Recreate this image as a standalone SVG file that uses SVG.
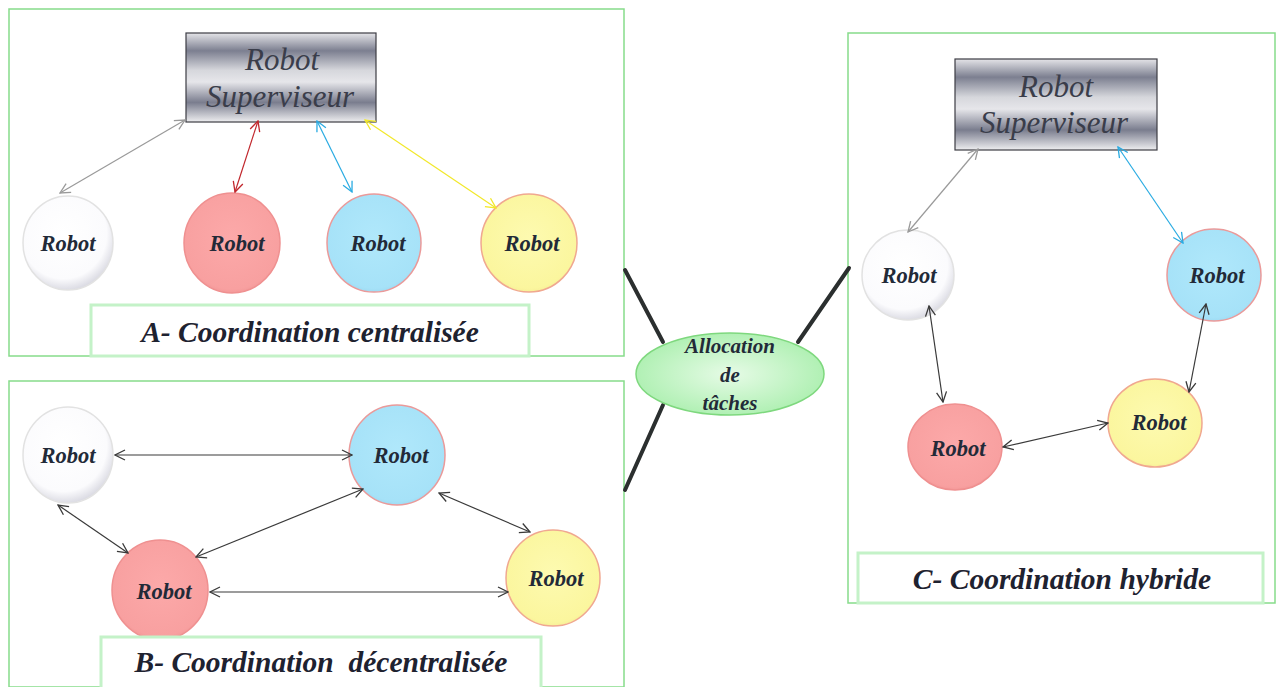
<svg xmlns="http://www.w3.org/2000/svg" width="1278" height="687" viewBox="0 0 1278 687">
<style>
.panel{fill:#fff;stroke:#86dc8a;stroke-width:1.5}
.lbl{fill:#fff;stroke:#c4f2c8;stroke-width:3}
.lt{font-family:"Liberation Serif",serif;font-weight:bold;font-style:italic;font-size:29.5px;fill:#1e2230;text-anchor:middle}
.sup{fill:url(#metal);stroke:#3c3c44;stroke-width:1.2}
.st{font-family:"Liberation Serif",serif;font-style:italic;font-size:31px;fill:#3a3d4a;text-anchor:middle}
.rt{font-family:"Liberation Serif",serif;font-weight:bold;font-style:italic;font-size:22.5px;fill:#222a38;text-anchor:middle}
.ht{font-family:"Liberation Serif",serif;font-weight:bold;font-style:italic;font-size:21px;fill:#222a38;text-anchor:middle}
.w{fill:url(#gw);stroke:#e2e2e2;stroke-width:1.5}
.r{fill:url(#gr);stroke:#ef9090;stroke-width:1.5}
.b{fill:url(#gb);stroke:#ea9a9a;stroke-width:1.5}
.y{fill:url(#gy);stroke:#f0a890;stroke-width:1.5}
.a{fill:none;stroke-width:1.2}
.dk{stroke:#3a3a3a;marker-start:url(#mk);marker-end:url(#mk)}
.gy{stroke:#9a9a9a;marker-start:url(#mg);marker-end:url(#mg)}
.rd{stroke:#c1272d;marker-start:url(#mr);marker-end:url(#mr)}
.bl{stroke:#29abe2;marker-start:url(#mb);marker-end:url(#mb)}
.yl{stroke:#f2e82a;marker-start:url(#my);marker-end:url(#my)}
.hub{stroke:#2b2f2f;stroke-width:4;stroke-linecap:round}
</style>
<defs>
<linearGradient id="metal" x1="0" y1="0" x2="0" y2="1">
<stop offset="0" stop-color="#e4e4e8"/>
<stop offset="0.2" stop-color="#7c7f90"/>
<stop offset="0.42" stop-color="#d6d7dc"/>
<stop offset="0.55" stop-color="#e6e6ea"/>
<stop offset="0.78" stop-color="#7a7d8e"/>
<stop offset="1" stop-color="#eeeef0"/>
</linearGradient>
<radialGradient id="gw" cx="0.45" cy="0.4" r="0.6">
<stop offset="0" stop-color="#ffffff"/><stop offset="0.8" stop-color="#fbfbfd"/><stop offset="1" stop-color="#dcdce4"/>
</radialGradient>
<radialGradient id="gr" cx="0.5" cy="0.45" r="0.6">
<stop offset="0" stop-color="#fca9a9"/><stop offset="0.85" stop-color="#f8a0a0"/><stop offset="1" stop-color="#ee9090"/>
</radialGradient>
<radialGradient id="gb" cx="0.5" cy="0.45" r="0.6">
<stop offset="0" stop-color="#b0e8fb"/><stop offset="0.85" stop-color="#a6e2f8"/><stop offset="1" stop-color="#96d4ee"/>
</radialGradient>
<radialGradient id="gy" cx="0.5" cy="0.45" r="0.6">
<stop offset="0" stop-color="#fdfab0"/><stop offset="0.85" stop-color="#fbf69e"/><stop offset="1" stop-color="#f3e890"/>
</radialGradient>
<radialGradient id="gc" cx="0.5" cy="0.5" r="0.6">
<stop offset="0" stop-color="#e6fbe6"/><stop offset="1" stop-color="#a6eeaa"/>
</radialGradient>
<marker id="mk" viewBox="0 0 12 12" refX="11" refY="6" markerWidth="12" markerHeight="12" markerUnits="userSpaceOnUse" orient="auto-start-reverse"><path d="M1,1 L11,6 L1,11" fill="none" stroke="#3a3a3a" stroke-width="1.3"/></marker>
<marker id="mg" viewBox="0 0 12 12" refX="11" refY="6" markerWidth="12" markerHeight="12" markerUnits="userSpaceOnUse" orient="auto-start-reverse"><path d="M1,1 L11,6 L1,11" fill="none" stroke="#9a9a9a" stroke-width="1.3"/></marker>
<marker id="mr" viewBox="0 0 12 12" refX="11" refY="6" markerWidth="12" markerHeight="12" markerUnits="userSpaceOnUse" orient="auto-start-reverse"><path d="M1,1 L11,6 L1,11" fill="none" stroke="#c1272d" stroke-width="1.3"/></marker>
<marker id="mb" viewBox="0 0 12 12" refX="11" refY="6" markerWidth="12" markerHeight="12" markerUnits="userSpaceOnUse" orient="auto-start-reverse"><path d="M1,1 L11,6 L1,11" fill="none" stroke="#29abe2" stroke-width="1.3"/></marker>
<marker id="my" viewBox="0 0 12 12" refX="11" refY="6" markerWidth="12" markerHeight="12" markerUnits="userSpaceOnUse" orient="auto-start-reverse"><path d="M1,1 L11,6 L1,11" fill="none" stroke="#f2e82a" stroke-width="1.3"/></marker>
</defs>
<rect width="1278" height="687" fill="#fff"/>

<g id="panels">
<rect class="panel" x="9" y="9" width="615" height="347"/>
<rect class="panel" x="9" y="381" width="615" height="306"/>
<rect class="panel" x="848" y="33" width="427" height="570"/>
</g>

<g id="hub-lines">
<line class="hub" x1="625" y1="270" x2="663" y2="342"/>
<line class="hub" x1="663" y1="405" x2="625" y2="490"/>
<line class="hub" x1="798" y1="342" x2="849" y2="268"/>
</g>

<g id="hub">
<ellipse cx="730" cy="374" rx="94" ry="41" fill="url(#gc)" stroke="#7ed87e" stroke-width="1.5"/>
<text class="ht" x="730" y="353">Allocation</text>
<text class="ht" x="730" y="382">de</text>
<text class="ht" x="730" y="410">tâches</text>
</g>

<g id="A-supervisor">
<rect class="sup" x="186" y="33" width="190" height="89"/>
<text class="st" x="282" y="70">Robot</text>
<text class="st" x="280" y="107">Superviseur</text>
</g>
<g id="A-robot-white"><ellipse class="w" cx="68" cy="243" rx="45" ry="47"/><text class="rt" x="68" y="251">Robot</text></g>
<g id="A-robot-red"><ellipse class="r" cx="232" cy="243" rx="48" ry="50"/><text class="rt" x="237" y="251">Robot</text></g>
<g id="A-robot-blue"><ellipse class="b" cx="374" cy="243" rx="47" ry="49"/><text class="rt" x="378" y="251">Robot</text></g>
<g id="A-robot-yellow"><ellipse class="y" cx="529" cy="243" rx="48" ry="49"/><text class="rt" x="532" y="251">Robot</text></g>
<g id="A-label"><rect class="lbl" x="91" y="305" width="438" height="51"/><text class="lt" x="310" y="342">A- Coordination centralisée</text></g>

<g id="B-robot-white"><ellipse class="w" cx="68" cy="455" rx="45" ry="48"/><text class="rt" x="68" y="463">Robot</text></g>
<g id="B-robot-blue"><ellipse class="b" cx="397" cy="455" rx="48" ry="50"/><text class="rt" x="401" y="463">Robot</text></g>
<g id="B-robot-red"><ellipse class="r" cx="160" cy="590" rx="48" ry="50"/><text class="rt" x="164" y="599">Robot</text></g>
<g id="B-robot-yellow"><ellipse class="y" cx="553" cy="578" rx="47" ry="48"/><text class="rt" x="556" y="586">Robot</text></g>
<g id="B-label"><rect class="lbl" x="101" y="637" width="440" height="52"/><text class="lt" x="321" y="672" xml:space="preserve">B- Coordination  décentralisée</text></g>

<g id="C-supervisor">
<rect class="sup" x="955" y="59" width="202" height="91"/>
<text class="st" x="1056" y="97">Robot</text>
<text class="st" x="1054" y="133">Superviseur</text>
</g>
<g id="C-robot-white"><ellipse class="w" cx="908" cy="275" rx="46" ry="45"/><text class="rt" x="909" y="283">Robot</text></g>
<g id="C-robot-blue"><ellipse class="b" cx="1214" cy="275" rx="47" ry="46"/><text class="rt" x="1217" y="283">Robot</text></g>
<g id="C-robot-red"><ellipse class="r" cx="955" cy="447" rx="47" ry="43"/><text class="rt" x="958" y="456">Robot</text></g>
<g id="C-robot-yellow"><ellipse class="y" cx="1155" cy="423" rx="47" ry="44"/><text class="rt" x="1159" y="430">Robot</text></g>
<g id="C-label"><rect class="lbl" x="858" y="553" width="405" height="50"/><text class="lt" x="1062" y="589">C- Coordination hybride</text></g>

<g id="connectors">
<line class="a gy" x1="185" y1="120" x2="60" y2="193"/>
<line class="a rd" x1="258" y1="121" x2="235" y2="192"/>
<line class="a bl" x1="317" y1="121" x2="352" y2="192"/>
<line class="a yl" x1="365" y1="120" x2="496" y2="208"/>

<line class="a dk" x1="115" y1="455" x2="352" y2="455"/>
<line class="a dk" x1="58" y1="505" x2="128" y2="553"/>
<line class="a dk" x1="363" y1="489" x2="196" y2="557"/>
<line class="a dk" x1="439" y1="493" x2="530" y2="532"/>
<line class="a dk" x1="210" y1="592" x2="508" y2="592"/>

<line class="a gy" x1="978" y1="149" x2="908" y2="232"/>
<line class="a bl" x1="1118" y1="147" x2="1183" y2="243"/>
<line class="a dk" x1="929" y1="306" x2="943" y2="402"/>
<line class="a dk" x1="1206" y1="304" x2="1189" y2="392"/>
<line class="a dk" x1="1003" y1="447" x2="1108" y2="423"/>
</g>
</svg>
